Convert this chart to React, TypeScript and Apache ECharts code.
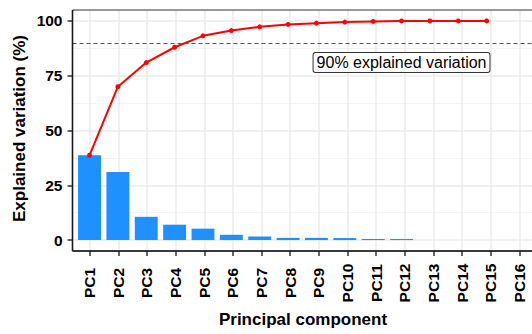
import React, { useEffect, useRef } from "react";
import * as echarts from "echarts";

const categories = [
  "PC1", "PC2", "PC3", "PC4", "PC5", "PC6", "PC7", "PC8",
  "PC9", "PC10", "PC11", "PC12", "PC13", "PC14", "PC15", "PC16",
];
const explained = [38.7, 31.1, 10.6, 7.0, 5.2, 2.4, 1.6, 1.0, 1.0, 0.9, 0.5, 0.5, 0, 0, 0, 0];
const cumulative = [38.7, 70.0, 81.0, 88.0, 93.2, 95.6, 97.3, 98.4, 99.0, 99.5, 99.8, 100, 100, 100, 100];
const yTicks = [0, 25, 50, 75, 100];
const threshold = 90;
const thresholdLabel = "90% explained variation";
const labelAnchor = { category: 12, value: 81 };
const xTitle = "Principal component";
const yTitle = "Explained variation (%)";

const FONT = "'Liberation Sans', Arial, Helvetica, sans-serif";

export default function App() {
  const ref = useRef<HTMLDivElement>(null);
  useEffect(() => {
    document.body.style.margin = "0";
    if (!ref.current) return;
    const chart = echarts.init(ref.current, null, { renderer: "svg" });
    // panel geometry
    const pL = 72.5, pT = 10, pW = 464, pH = 241;
    const unit = pW / 16.2;
    const c1 = pL + 0.6 * unit;
    const yUnit = pH / 110;
    const option: any = {
      animation: false,
      backgroundColor: "#ffffff",
      grid: [
        { left: c1, top: pT, width: 15 * unit, height: pH },
        { left: pL, top: pT + 5 * yUnit, width: pW, height: 100 * yUnit },
      ],
      xAxis: [
        {
          gridIndex: 0,
          type: "category",
          data: categories,
          boundaryGap: false,
          axisLine: { show: false },
          axisTick: { show: true, length: 5, interval: 0, lineStyle: { color: "#333", width: 1.5 } },
          axisLabel: {
            interval: 0,
            rotate: 90,
            align: "center",
            verticalAlign: "middle",
            margin: 32,
            fontSize: 15.5,
            fontWeight: "bold",
            fontFamily: FONT,
            color: "#000",
          },
          splitLine: { show: true, interval: 0, lineStyle: { color: "#EBEBEB", width: 1.5 } },
        },
        {
          gridIndex: 1,
          type: "value",
          min: 0.4,
          max: 16.6,
          show: false,
          splitLine: { show: false },
        },
      ],
      yAxis: [
        { gridIndex: 0, type: "value", min: 0, max: 1, show: false, splitLine: { show: false } },
        {
          gridIndex: 1,
          type: "value",
          min: yTicks[0],
          max: yTicks[yTicks.length - 1],
          interval: 25,
          axisLine: { show: false },
          axisTick: { show: true, length: 5, lineStyle: { color: "#333", width: 1.5 } },
          axisLabel: {
            margin: 10,
            fontSize: 15.5,
            fontWeight: "bold",
            fontFamily: FONT,
            color: "#000",
          },
          splitLine: { show: true, lineStyle: { color: "#EBEBEB", width: 1.5 } },
          minorTick: { show: false, splitNumber: 2 },
          minorSplitLine: { show: true, lineStyle: { color: "#F4F4F4", width: 1 } },
        },
      ],
      series: [
        {
          type: "bar",
          xAxisIndex: 1,
          yAxisIndex: 1,
          data: explained.map((v, i) => [i + 1, v]),
          barWidth: unit * 0.8,
          clip: false,
          itemStyle: { color: "#1E90FF" },
          silent: true,
          z: 2,
        },
        {
          type: "line",
          xAxisIndex: 1,
          yAxisIndex: 1,
          data: cumulative.map((v, i) => [i + 1, v]),
          clip: false,
          symbol: "circle",
          symbolSize: 5,
          lineStyle: { color: "#FF0000", width: 2 },
          itemStyle: { color: "#FF0000" },
          silent: true,
          z: 3,
          markLine: {
            silent: true,
            symbol: ["none", "none"],
            label: { show: false },
            lineStyle: { color: "#555", type: [4, 3], width: 1 },
            data: [{ yAxis: threshold }],
          },
          markPoint: {
            silent: true,
            symbol: "rect",
            symbolSize: 1,
            itemStyle: { color: "transparent" },
            label: {
              show: true,
              position: "inside",
              formatter: thresholdLabel,
              color: "#000",
              fontSize: 16,
              fontFamily: FONT,
              backgroundColor: "#fff",
              borderColor: "#333",
              borderWidth: 1,
              borderRadius: 2,
              padding: [2, 3, 1, 3],
            },
            data: [{ coord: [labelAnchor.category, labelAnchor.value] }],
          },
        },
      ],
      graphic: [
        {
          type: "rect",
          z: 100,
          silent: true,
          shape: { x: pL, y: pT, width: pW, height: pH },
          style: { fill: "none", stroke: "#333", lineWidth: 1 },
        },
        {
          type: "line",
          z: 101,
          silent: true,
          shape: { x1: pL, y1: pT, x2: pL, y2: pT + pH },
          style: { stroke: "#1a1a1a", lineWidth: 1.6 },
        },
        {
          type: "line",
          z: 101,
          silent: true,
          shape: { x1: pL, y1: pT + pH, x2: pL + pW, y2: pT + pH },
          style: { stroke: "#1a1a1a", lineWidth: 1.6 },
        },
        {
          type: "text",
          z: 101,
          silent: true,
          x: 303,
          y: 319,
          style: {
            text: xTitle,
            fill: "#000",
            fontSize: 17,
            fontWeight: "bold",
            fontFamily: FONT,
            textAlign: "center",
            textVerticalAlign: "middle",
          },
        },
        {
          type: "text",
          z: 101,
          silent: true,
          x: 19.5,
          y: 128.5,
          rotation: Math.PI / 2,
          style: {
            text: yTitle,
            fill: "#000",
            fontSize: 17,
            fontWeight: "bold",
            fontFamily: FONT,
            textAlign: "center",
            textVerticalAlign: "middle",
          },
        },
      ],
    };
    chart.setOption(option);
    return () => chart.dispose();
  }, []);
  return <div ref={ref} style={{ width: 532, height: 334 }} />;
}
